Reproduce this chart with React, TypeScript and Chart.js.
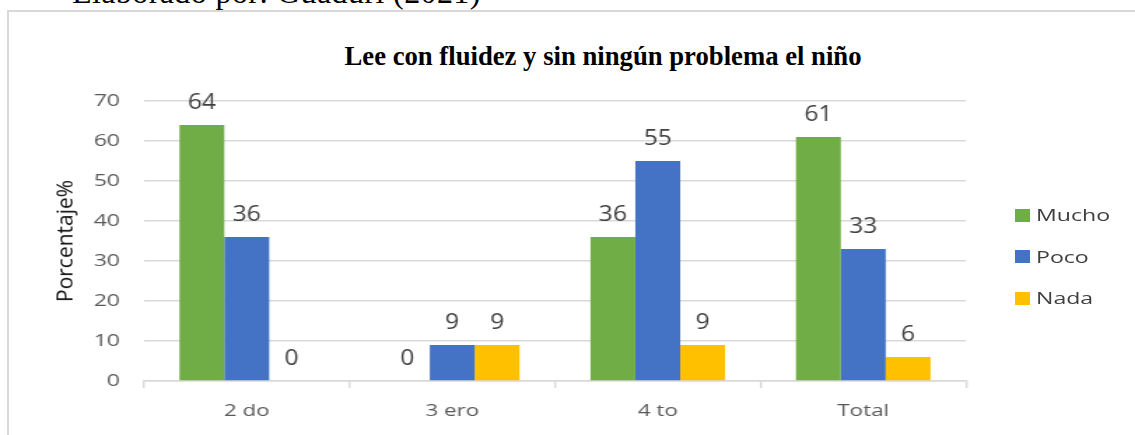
import React, { useEffect, useRef } from "react";
import { Chart, registerables } from "chart.js";

Chart.register(...registerables);

// ---- data ----
const categories = ["2 do", "3 ero", "4 to", "Total"];
const mucho = [64, 0, 36, 61];
const poco = [36, 9, 55, 33];
const nada = [0, 9, 9, 6];
const seriesNames = ["Mucho", "Poco", "Nada"];
const seriesColors = ["#70AD47", "#4472C4", "#FFC000"];
const yMin = 0;
const yMax = 70;
const yStep = 10;

const chartTitle = "Lee con fluidez y sin ningún problema el niño";
const yAxisTitle = "Porcentaje%";
const caption = "Elaborado por: Guaduri (2021)";

// ---- layout ----
const W = 1135;
const H = 435;
const CW = 811; // canvas drawing width, stretched horizontally to W
const SX = W / CW;
const FONT = "'Open Sans', 'DejaVu Sans', sans-serif";

const valueLabels = {
  id: "valueLabels",
  afterDatasetsDraw(chart: any) {
    const ctx = chart.ctx as CanvasRenderingContext2D;
    ctx.save();
    ctx.font = `22px ${FONT}`;
    ctx.fillStyle = "#404040";
    ctx.textAlign = "center";
    ctx.textBaseline = "alphabetic";
    chart.data.datasets.forEach((ds: any, i: number) => {
      const meta = chart.getDatasetMeta(i);
      meta.data.forEach((bar: any, j: number) => {
        ctx.save();
        ctx.translate(bar.x, bar.y - 15.6);
        ctx.scale(0.8, 1);
        ctx.fillText(String(ds.data[j]), 0, 0);
        ctx.restore();
      });
    });
    ctx.restore();
  },
};

export default function App() {
  const ref = useRef<HTMLCanvasElement>(null);

  useEffect(() => {
    const canvas = ref.current;
    if (!canvas) return;
    const seriesData = [mucho, poco, nada];
    const chart = new Chart(canvas, {
      type: "bar",
      data: {
        labels: categories,
        datasets: seriesNames.map((name, i) => ({
          label: name,
          data: seriesData[i],
          backgroundColor: seriesColors[i],
          borderWidth: 0,
          categoryPercentage: 0.655,
          barPercentage: 1,
        })),
      },
      options: {
        animation: false,
        responsive: false,
        devicePixelRatio: 1,
        layout: { padding: { left: 0, right: (W - 966) / SX, top: 101, bottom: 0 } },
        plugins: {
          legend: { display: false },
          title: { display: false },
          tooltip: { enabled: false },
        },
        scales: {
          x: {
            grid: {
              offset: true,
              drawOnChartArea: false,
              drawTicks: true,
              tickLength: 7,
              color: "#d9d9d9",
              lineWidth: 1.4,
            },
            border: { display: true, color: "#d9d9d9", width: 1.5 },
            ticks: { color: "#595959", font: { family: FONT, size: 16 }, padding: 13.4 },
            afterFit: (s: any) => {
              s.height = H - 381;
            },
          },
          y: {
            min: yMin,
            max: yMax,
            ticks: {
              stepSize: yStep,
              color: "#595959",
              font: { family: FONT, size: 16.5 },
              padding: (144 - 120) / SX,
            },
            grid: { color: "#d9d9d9", lineWidth: 1.5, drawTicks: false },
            border: { display: false },
            afterFit: (s: any) => {
              s.width = 144 / SX;
            },
          },
        },
      },
      plugins: [valueLabels],
    } as any);
    return () => chart.destroy();
  }, []);

  const legendCenters = [215, 256.5, 298];

  return (
    <div
      style={{
        position: "fixed",
        left: 0,
        top: 0,
        width: W,
        height: H,
        overflow: "hidden",
        background: "#fff",
      }}
    >
      <div
        style={{
          position: "absolute",
          left: 72,
          top: -24.5,
          fontFamily: "'Liberation Serif', 'Times New Roman', serif",
          fontSize: 32,
          lineHeight: "32px",
          letterSpacing: "0.4px",
          whiteSpace: "nowrap",
          color: "#000",
        }}
      >
        {caption}
      </div>
      <div
        style={{
          position: "absolute",
          left: 7,
          top: 10,
          width: W,
          height: H,
          borderTop: "2px solid #d9d9d9",
          borderLeft: "2px solid #d9d9d9",
        }}
      />
      <div
        style={{
          position: "absolute",
          left: 0,
          width: 1206,
          top: 42.8,
          textAlign: "center",
          fontFamily: "'Liberation Serif', 'Times New Roman', serif",
          fontWeight: "bold",
          fontSize: 26.7,
          lineHeight: "26.7px",
          whiteSpace: "nowrap",
          color: "#000",
        }}
      >
        {chartTitle}
      </div>
      <canvas
        ref={ref}
        width={CW}
        height={H}
        style={{
          position: "absolute",
          left: 0,
          top: 0,
          transform: `scaleX(${SX})`,
          transformOrigin: "0 0",
        }}
      />
      <div
        style={{
          position: "absolute",
          left: 65.1,
          top: 240.9,
          transform: "translate(-50%, -50%) rotate(-90deg)",
          fontFamily: FONT,
          fontSize: 21,
          lineHeight: "21px",
          whiteSpace: "nowrap",
          color: "#0d0d0d",
        }}
      >
        {yAxisTitle}
      </div>
      {seriesNames.map((name, i) => (
        <React.Fragment key={name}>
          <div
            style={{
              position: "absolute",
              left: 1015,
              top: legendCenters[i] - 6.5,
              width: 15,
              height: 13,
              background: seriesColors[i],
            }}
          />
          <div
            style={{
              position: "absolute",
              left: 1036,
              top: legendCenters[i] + 0.8 - 8.75,
              fontFamily: FONT,
              fontSize: 16.5,
              lineHeight: "16.5px",
              whiteSpace: "nowrap",
              color: "#404040",
              transform: `scaleX(${SX})`,
              transformOrigin: "0 50%",
            }}
          >
            {name}
          </div>
        </React.Fragment>
      ))}
    </div>
  );
}
